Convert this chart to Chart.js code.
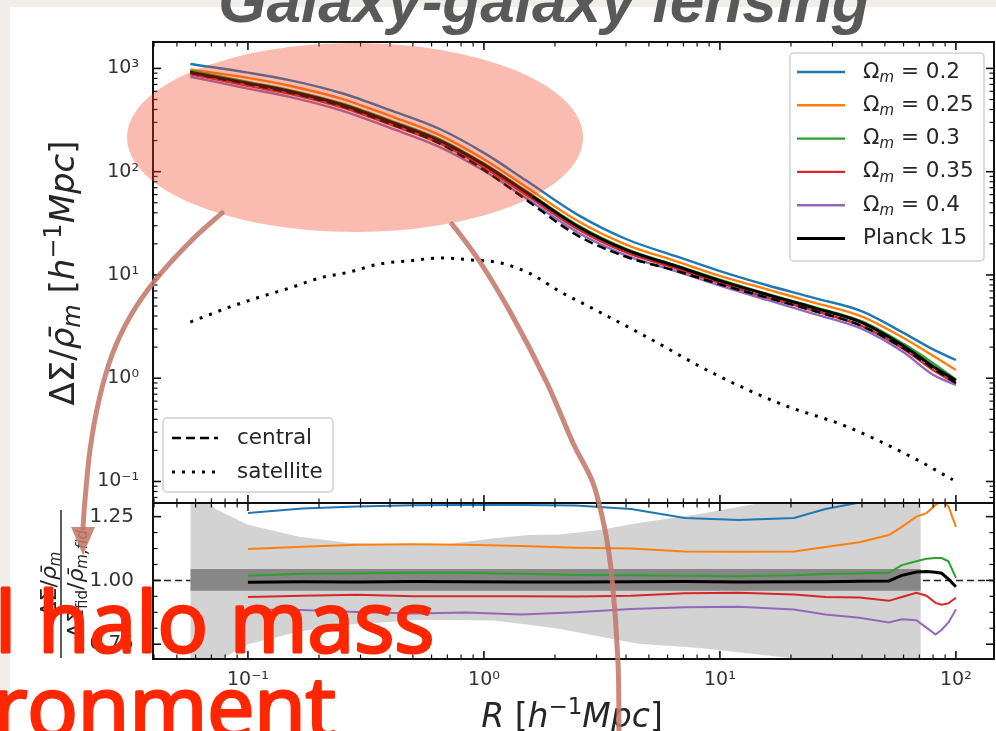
<!DOCTYPE html>
<html>
<head>
<meta charset="utf-8">
<script src="https://cdn.jsdelivr.net/npm/chart.js@4.4.1/dist/chart.umd.min.js"></script>
<style>
  html, body { margin: 0; padding: 0; }
  body { width: 996px; height: 731px; position: relative; overflow: hidden; background: #f1eee9; }
  #sheet { position: absolute; left: 10px; top: 7px; width: 986px; height: 724px; background: #ffffff; }
  canvas, svg { position: absolute; left: 0; top: 0; }
</style>
</head>
<body>
<div id="sheet"></div>
<canvas id="profile" width="996" height="731"></canvas>
<canvas id="ratio" width="996" height="731"></canvas>
<svg id="notes" xmlns="http://www.w3.org/2000/svg" width="996" height="731">
  <g font-family="DejaVu Sans" fill="#262626">
    <text transform="translate(74,273) rotate(-90)" text-anchor="middle" font-size="34">ΔΣ/<tspan font-style="italic">ρ̄</tspan><tspan font-style="italic" font-size="24" dy="6">m</tspan><tspan dy="-6"> [</tspan><tspan font-style="italic">h</tspan><tspan font-size="24" dy="-13">−1</tspan><tspan font-style="italic" dy="13">Mpc</tspan>]</text>
    <text x="572" y="727" text-anchor="middle" font-size="33"><tspan font-style="italic">R</tspan> [<tspan font-style="italic">h</tspan><tspan font-size="23" dy="-13">−1</tspan><tspan font-style="italic" dy="13">Mpc</tspan>]</text>
    <g transform="translate(61,584) rotate(-90)">
      <text x="0" y="-5" text-anchor="middle" font-size="22">ΔΣ/<tspan font-style="italic">ρ̄</tspan><tspan font-style="italic" font-size="15" dy="4">m</tspan></text>
      <line x1="-74" y1="0" x2="74" y2="0" stroke="#262626" stroke-width="1.5"/>
      <text x="0" y="22" text-anchor="middle" font-size="22">ΔΣ<tspan font-size="15" dy="4">fid</tspan><tspan dy="-4">/</tspan><tspan font-style="italic">ρ̄</tspan><tspan font-style="italic" font-size="15" dy="4">m,fid</tspan></text>
    </g>
  </g>
  <ellipse cx="355" cy="137.5" rx="228" ry="94.5" fill="rgba(241,64,32,0.35)"/>
  <g fill="none" stroke="rgba(196,120,106,0.88)" stroke-width="5" stroke-linecap="round">
    <path id="arrowLeft"/>
    <path id="arrowRight"/>
  </g>
  <polygon points="71,527 95,527 83,555" fill="rgba(196,120,106,0.88)"/>
  <text x="544" y="22" text-anchor="middle" font-family="Liberation Sans" font-weight="bold" font-style="italic" font-size="62" fill="#595959">Galaxy-galaxy lensing</text>
  <g font-family="Open Sans" font-weight="400" font-size="84" fill="#ff2600" stroke="#ff2600" stroke-width="3" stroke-linejoin="round">
    <text x="-5" y="652">l halo mass</text>
    <text x="-7" y="737">ronment</text>
  </g>
</svg>
<script>
// ---- excess surface density profiles, ΔΣ/ρ̄m [h^-1 Mpc] ----
const R_PROFILE   = [0.057, 0.1, 0.15, 0.25, 0.4, 0.65, 1.0, 1.5, 2.5, 4, 6.5, 10, 16, 25, 40, 60, 80, 100];
const DS_OM020    = [1104, 910, 770, 575, 395, 259, 152, 83, 38.2, 22.3, 15.2, 10.9, 7.9, 6.0, 4.45, 2.75, 1.9, 1.5];
const DS_OM025    = [980, 810, 680, 508, 347, 226, 132, 72, 33.3, 19.7, 13.6, 9.8, 7.2, 5.4, 3.95, 2.45, 1.65, 1.2];
const DS_OM030    = [950, 738, 617, 458, 314, 206, 120, 65.6, 30.2, 17.9, 12.4, 9.0, 6.5, 4.9, 3.55, 2.15, 1.4, 0.97];
const DS_OM035    = [877, 677, 566, 419, 287, 188, 110, 60, 27.7, 16.5, 11.6, 8.35, 6.0, 4.5, 3.2, 1.92, 1.2, 0.89];
const DS_OM040    = [831, 638, 530, 390, 265, 173, 102, 55.8, 25.8, 15.5, 10.9, 7.9, 5.7, 4.2, 3.0, 1.78, 1.08, 0.86];
const DS_PLANCK15 = [917, 720, 600, 445, 305, 200, 117, 64, 29.5, 17.5, 12.2, 8.8, 6.4, 4.8, 3.45, 2.05, 1.3, 0.95];
const DS_CENTRAL  = [905, 705, 585, 432, 292, 187, 104, 54, 24, 15, 11, 8.1, 6.0, 4.5, 3.2, 1.95, 1.25, 0.9];

const R_SATELLITE  = [0.057, 0.084, 0.112, 0.151, 0.202, 0.27, 0.362, 0.485, 0.651, 0.873, 1.17, 1.57, 2.1, 2.81, 4.91, 9.33, 17.9, 34.5, 65.8, 97];
const DS_SATELLITE = [3.5, 4.9, 6.1, 7.5, 9.35, 10.7, 12.8, 13.7, 14.6, 14.0, 13.1, 10.3, 6.9, 4.9, 2.5, 1.12, 0.57, 0.34, 0.17, 0.104];

// ---- ratios to the fiducial profile ----
const R_RATIO        = [0.1, 0.17, 0.29, 0.5, 0.84, 1.44, 2.45, 4.2, 7.1, 12, 20.6, 28, 39, 52, 59, 68, 75, 82, 87, 93, 100];
const RATIO_OM020    = [1.264, 1.282, 1.290, 1.295, 1.296, 1.296, 1.294, 1.280, 1.245, 1.237, 1.245, 1.280, 1.305, 1.34, 1.36, 1.38, 1.40, 1.42, 1.42, 1.42, 1.42];
const RATIO_OM025    = [1.123, 1.132, 1.140, 1.142, 1.140, 1.135, 1.128, 1.125, 1.113, 1.112, 1.113, 1.131, 1.150, 1.178, 1.210, 1.250, 1.264, 1.296, 1.310, 1.290, 1.210];
const RATIO_OM030    = [1.018, 1.026, 1.028, 1.030, 1.030, 1.026, 1.021, 1.020, 1.018, 1.016, 1.020, 1.025, 1.028, 1.030, 1.060, 1.075, 1.085, 1.088, 1.088, 1.075, 1.010];
const RATIO_OM035    = [0.935, 0.940, 0.944, 0.938, 0.938, 0.938, 0.937, 0.940, 0.950, 0.952, 0.945, 0.935, 0.933, 0.920, 0.935, 0.952, 0.940, 0.912, 0.905, 0.910, 0.932];
const RATIO_OM040    = [0.886, 0.884, 0.876, 0.870, 0.874, 0.866, 0.875, 0.888, 0.895, 0.897, 0.886, 0.866, 0.854, 0.835, 0.848, 0.844, 0.815, 0.788, 0.807, 0.835, 0.886];
const RATIO_PLANCK15 = [0.993, 0.995, 0.994, 0.996, 0.995, 0.994, 0.994, 0.995, 0.996, 0.994, 0.995, 0.995, 0.997, 0.998, 1.020, 1.033, 1.035, 1.032, 1.028, 1.005, 0.975];

// scatter envelope (light) and measurement precision (dark)
const R_SCATTER  = [0.057, 0.068, 0.073, 0.1, 0.165, 0.27, 0.44, 0.5, 0.71, 1.1, 1.55, 2.1, 3.1, 4.5, 8.2, 14.6, 20.6, 71];
const SCATTER_HI = [1.40, 1.31, 1.28, 1.218, 1.171, 1.147, 1.139, 1.140, 1.143, 1.165, 1.178, 1.180, 1.198, 1.225, 1.260, 1.303, 1.33, 1.40];
const SCATTER_LO = [0.60, 0.62, 0.68, 0.750, 0.800, 0.827, 0.840, 0.846, 0.845, 0.843, 0.826, 0.810, 0.780, 0.752, 0.735, 0.710, 0.694, 0.60];
const R_CORE  = [0.057, 71];
const CORE_HI = [1.045, 1.045];
const CORE_LO = [0.96, 0.96];
const R_UNITY = [0.0396, 145];
const UNITY   = [1, 1];

// ---- labels and axis ranges ----
const OMEGA_VALUES  = ['0.2', '0.25', '0.3', '0.35', '0.4'];
const FIDUCIAL_NAME = 'Planck 15';
const SERIES_COLORS = ['#1f77b4', '#ff7f0e', '#2ca02c', '#d62728', '#9467bd'];
const X_TICKS = [0.1, 1, 10, 100];
const X_TICK_LABELS = ['10⁻¹', '10⁰', '10¹', '10²'];
const Y_TICKS = [0.1, 1, 10, 100, 1000];
const Y_TICK_LABELS = ['10⁻¹', '10⁰', '10¹', '10²', '10³'];
const RATIO_TICKS = [0.75, 1.00, 1.25];
const RATIO_TICK_LABELS = ['0.75', '1.00', '1.25'];
const X_RANGE = [0.0396, 145];
const Y_RANGE = [0.0619, 1802];
const RATIO_RANGE = [0.692, 1.3035];

const pts = (xs, ys) => xs.map((x, i) => ({ x, y: ys[i] }));
const FONT = 'DejaVu Sans';
const INK = '#262626';

// inward matplotlib-style ticks on all four sides plus the axes frame
function logTicks(min, max) {
  const out = [];
  for (let e = -3; e <= 4; e++) for (let m = 1; m < 10; m++) {
    const v = m * Math.pow(10, e);
    if (v >= min && v <= max) out.push({ v, major: m === 1 });
  }
  return out;
}
function linTicks(min, max, step, majors) {
  const out = [];
  for (let k = Math.ceil(min / step); k <= Math.floor(max / step); k++) {
    const v = k * step;
    out.push({ v, major: majors.some(m => Math.abs(m - v) < 1e-9) });
  }
  return out;
}
const axisFrame = {
  id: 'axisFrame',
  afterDatasetsDraw(chart) {
    const { ctx, chartArea: a } = chart;
    const xs = chart.scales.x, ys = chart.scales.y;
    ctx.save();
    ctx.strokeStyle = '#111';
    const seg = (x1, y1, x2, y2, w) => { ctx.lineWidth = w; ctx.beginPath(); ctx.moveTo(x1, y1); ctx.lineTo(x2, y2); ctx.stroke(); };
    for (const t of logTicks(xs.min, xs.max)) {
      const p = xs.getPixelForValue(t.v), L = t.major ? 8 : 4.5, w = t.major ? 1.6 : 1.2;
      seg(p, a.top, p, a.top + L, w);
      seg(p, a.bottom, p, a.bottom - L, w);
    }
    const yt = ys.type === 'logarithmic' ? logTicks(ys.min, ys.max) : linTicks(ys.min, ys.max, 0.0625, RATIO_TICKS);
    for (const t of yt) {
      const p = ys.getPixelForValue(t.v), L = t.major ? 8 : 4.5, w = t.major ? 1.6 : 1.2;
      seg(a.left, p, a.left + L, p, w);
      seg(a.right, p, a.right - L, p, w);
    }
    ctx.lineWidth = 2;
    ctx.strokeRect(a.left, a.top, a.right - a.left, a.bottom - a.top);
    ctx.restore();
  }
};

// legends inside the profile panel, styled from the datasets themselves
const panelLegends = {
  id: 'panelLegends',
  afterDraw(chart) {
    const { ctx } = chart;
    const sets = chart.data.datasets;
    const box = (x, y, w, h) => {
      ctx.save();
      ctx.beginPath();
      ctx.roundRect(x, y, w, h, 4);
      ctx.fillStyle = 'rgba(255,255,255,0.85)';
      ctx.fill();
      ctx.strokeStyle = '#d0d0d0';
      ctx.lineWidth = 1.5;
      ctx.stroke();
      ctx.restore();
    };
    const sample = (ds, x1, x2, y) => {
      ctx.save();
      ctx.strokeStyle = ds.borderColor;
      ctx.lineWidth = ds.borderWidth;
      ctx.setLineDash(ds.borderDash || []);
      ctx.beginPath(); ctx.moveTo(x1, y); ctx.lineTo(x2, y); ctx.stroke();
      ctx.restore();
    };
    const big = `21.5px ${FONT}`;
    ctx.save();
    ctx.fillStyle = INK;
    ctx.textBaseline = 'middle';
    box(790, 53, 194, 208);
    sets.slice(0, 6).forEach((ds, i) => {
      const y = 72 + i * 33.3;
      sample(ds, 797, 845, y);
      let x = 863;
      ctx.font = big;
      if (ds.omega) {
        ctx.fillText('Ω', x, y); x += ctx.measureText('Ω').width;
        ctx.font = `italic 15px ${FONT}`;
        ctx.fillText('m', x, y + 6); x += ctx.measureText('m').width;
        ctx.font = big;
        ctx.fillText(' = ' + ds.omega, x, y);
      } else {
        ctx.fillText(ds.label, x, y);
      }
    });
    box(163, 418, 170, 74);
    sets.slice(6, 8).forEach((ds, i) => {
      const y = 438 + i * 34;
      sample(ds, 172, 218, y);
      ctx.font = big;
      ctx.fillText(ds.label, 237, y);
    });
    ctx.restore();
  }
};

const tickFont = { family: FONT, size: 19 };
const lineBase = { pointRadius: 0, fill: false, borderCapStyle: 'butt' };

// upper panel: ΔΣ profiles on log-log axes
const profileSets = [
  ...OMEGA_VALUES.map((om, i) => ({
    ...lineBase, label: 'Ωm = ' + om, omega: om,
    data: pts(R_PROFILE, [DS_OM020, DS_OM025, DS_OM030, DS_OM035, DS_OM040][i]),
    borderColor: SERIES_COLORS[i], borderWidth: 2.4, order: 8 - i, cubicInterpolationMode: 'monotone'
  })),
  { ...lineBase, label: FIDUCIAL_NAME, data: pts(R_PROFILE, DS_PLANCK15), borderColor: '#000', borderWidth: 3, order: 3, cubicInterpolationMode: 'monotone' },
  { ...lineBase, label: 'central', data: pts(R_PROFILE, DS_CENTRAL), borderColor: '#000', borderWidth: 2.5, borderDash: [9, 5], order: 2, cubicInterpolationMode: 'monotone' },
  { ...lineBase, label: 'satellite', data: pts(R_SATELLITE, DS_SATELLITE), borderColor: '#000', borderWidth: 3, borderDash: [3, 7], order: 1, cubicInterpolationMode: 'monotone' }
];

new Chart(document.getElementById('profile'), {
  type: 'line',
  data: { datasets: profileSets },
  options: {
    responsive: false, animation: false, devicePixelRatio: 1, events: [],
    layout: { padding: { left: 0, top: 42, right: 2, bottom: 228 } },
    plugins: { legend: { display: false }, tooltip: { enabled: false } },
    scales: {
      x: { type: 'logarithmic', min: X_RANGE[0], max: X_RANGE[1], display: false },
      y: {
        type: 'logarithmic', min: Y_RANGE[0], max: Y_RANGE[1],
        afterFit(s) { s.width = 153; },
        afterBuildTicks(s) { s.ticks = Y_TICKS.map(v => ({ value: v })); },
        grid: { display: false }, border: { display: false },
        ticks: { padding: 6, font: tickFont, color: '#333', autoSkip: false, callback: (v, i) => Y_TICK_LABELS[i] }
      }
    }
  },
  plugins: [axisFrame, panelLegends]
});

// lower panel: ratio to the fiducial cosmology
const ratioSets = [
  ...[RATIO_OM020, RATIO_OM025, RATIO_OM030, RATIO_OM035, RATIO_OM040].map((arr, i) => ({
    ...lineBase, label: 'Ωm = ' + OMEGA_VALUES[i], data: pts(R_RATIO, arr),
    borderColor: SERIES_COLORS[i], borderWidth: 2, order: 10 - i
  })),
  { ...lineBase, label: FIDUCIAL_NAME, data: pts(R_RATIO, RATIO_PLANCK15), borderColor: '#000', borderWidth: 3, order: 4 },
  { ...lineBase, label: 'scatter hi', data: pts(R_SCATTER, SCATTER_HI), fill: '+1', backgroundColor: '#d3d3d3', borderColor: 'rgba(0,0,0,0)', borderWidth: 0, order: 29 },
  { ...lineBase, label: 'scatter lo', data: pts(R_SCATTER, SCATTER_LO), borderColor: 'rgba(0,0,0,0)', borderWidth: 0, order: 28 },
  { ...lineBase, label: 'core hi', data: pts(R_CORE, CORE_HI), fill: '+1', backgroundColor: '#878787', borderColor: 'rgba(0,0,0,0)', borderWidth: 0, order: 27 },
  { ...lineBase, label: 'core lo', data: pts(R_CORE, CORE_LO), borderColor: 'rgba(0,0,0,0)', borderWidth: 0, order: 26 },
  { ...lineBase, label: 'unity', data: pts(R_UNITY, UNITY), borderColor: '#222', borderWidth: 1.5, borderDash: [7, 4], order: 30 }
];

new Chart(document.getElementById('ratio'), {
  type: 'line',
  data: { datasets: ratioSets },
  options: {
    responsive: false, animation: false, devicePixelRatio: 1, events: [],
    layout: { padding: { left: 0, top: 503, right: 2, bottom: 0 } },
    plugins: { legend: { display: false }, tooltip: { enabled: false } },
    scales: {
      x: {
        type: 'logarithmic', min: X_RANGE[0], max: X_RANGE[1],
        afterFit(s) { s.height = 72; },
        afterBuildTicks(s) { s.ticks = X_TICKS.map(v => ({ value: v })); },
        grid: { display: false }, border: { display: false },
        ticks: { padding: 2, font: tickFont, color: '#333', autoSkip: false, maxRotation: 0, callback: (v, i) => X_TICK_LABELS[i] }
      },
      y: {
        type: 'linear', min: RATIO_RANGE[0], max: RATIO_RANGE[1],
        afterFit(s) { s.width = 153; },
        afterBuildTicks(s) { s.ticks = RATIO_TICKS.map(v => ({ value: v })); },
        grid: { display: false }, border: { display: false },
        ticks: { padding: 11, font: { family: FONT, size: 20 }, color: '#333', autoSkip: false, callback: (v, i) => RATIO_TICK_LABELS[i] }
      }
    }
  },
  plugins: [axisFrame]
});

// callout arrows from the highlighted small-scale region
function smoothPath(p) {
  let d = `M${p[0][0]},${p[0][1]}`;
  for (let i = 0; i < p.length - 1; i++) {
    const p0 = p[i - 1] || p[i], p1 = p[i], p2 = p[i + 1], p3 = p[i + 2] || p2;
    const c1 = [p1[0] + (p2[0] - p0[0]) / 6, p1[1] + (p2[1] - p0[1]) / 6];
    const c2 = [p2[0] - (p3[0] - p1[0]) / 6, p2[1] - (p3[1] - p1[1]) / 6];
    d += ` C${c1[0].toFixed(1)},${c1[1].toFixed(1)} ${c2[0].toFixed(1)},${c2[1].toFixed(1)} ${p2[0]},${p2[1]}`;
  }
  return d;
}
document.getElementById('arrowLeft').setAttribute('d', smoothPath([[222, 213], [192, 240], [157, 278], [131, 315], [112, 355], [99, 400], [90, 450], [85, 500], [83, 528]]));
document.getElementById('arrowRight').setAttribute('d', smoothPath([[452, 224], [480, 262], [513, 317], [547, 383], [573, 443], [593, 483], [605, 530], [612, 578], [618, 662], [619, 740]]));
</script>
</body>
</html>
